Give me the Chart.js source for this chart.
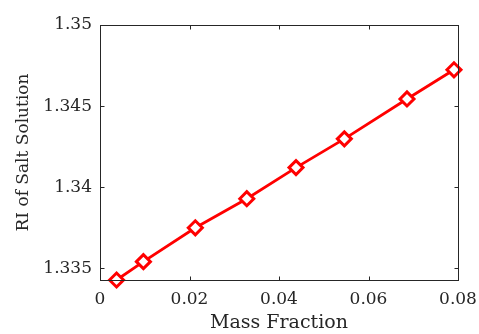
<!DOCTYPE html>
<html><head><meta charset="utf-8">
<script src="https://cdn.jsdelivr.net/npm/chart.js@4/dist/chart.umd.min.js"></script>
<style>html,body{margin:0;padding:0;background:#fff}#wrap{width:479px;height:334px}</style>
</head><body><div id="wrap"><canvas id="c" width="479" height="334"></canvas></div>
<script>
const massFraction = [0.0037, 0.0097, 0.0213, 0.0328, 0.0438, 0.0546, 0.0686, 0.0791];
const riValues = [1.33428, 1.33541, 1.33750, 1.33929, 1.34121, 1.34298, 1.34544, 1.34724];
const xTicks = [0, 0.02, 0.04, 0.06, 0.08];
const xTickLabels = ['0', '0.02', '0.04', '0.06', '0.08'];
const yTicks = [1.335, 1.34, 1.345, 1.35];
const yTickLabels = ['1.335', '1.34', '1.345', '1.35'];

const axisColor = '#262626';
const fontFam = '"DejaVu Serif", serif';

const boxPlugin = {
  id: 'box',
  afterDraw(chart) {
    const {ctx, chartArea: a, scales} = chart;
    ctx.save();
    ctx.strokeStyle = axisColor;
    ctx.lineWidth = 1;
    const L = Math.round(a.left) + 0.5, R = Math.round(a.right) + 0.5;
    const T = Math.round(a.top) + 0.5, B = Math.round(a.bottom) + 0.5;
    ctx.strokeRect(L, T, R - L, B - T);
    const tl = 4;
    ctx.beginPath();
    xTicks.forEach(v => {
      const x = Math.round(scales.x.getPixelForValue(v)) + 0.5;
      ctx.moveTo(x, B); ctx.lineTo(x, B - tl);
      ctx.moveTo(x, T); ctx.lineTo(x, T + tl);
    });
    yTicks.forEach(v => {
      const y = Math.round(scales.y.getPixelForValue(v)) + 0.5;
      ctx.moveTo(L, y); ctx.lineTo(L + tl, y);
      ctx.moveTo(R, y); ctx.lineTo(R - tl, y);
    });
    ctx.stroke();
    ctx.restore();
  }
};

new Chart(document.getElementById('c'), {
  type: 'line',
  data: {
    datasets: [{
      data: massFraction.map((x, i) => ({x, y: riValues[i]})),
      borderColor: '#ff0000',
      borderWidth: 2.8,
      pointStyle: 'rectRot',
      pointRadius: 7,
      pointBorderWidth: 3,
      pointBorderColor: '#ff0000',
      pointBackgroundColor: '#ffffff',
      pointHoverRadius: 7,
      tension: 0,
      clip: false
    }]
  },
  options: {
    responsive: false,
    animation: false,
    events: [],
    layout: {padding: {top: 25, right: 21, left: 0, bottom: 0}},
    plugins: {legend: {display: false}, tooltip: {enabled: false}},
    scales: {
      x: {
        type: 'linear',
        min: 0, max: 0.08,
        afterBuildTicks: s => { s.ticks = xTicks.map(v => ({value: v})); },
        afterFit: s => { s.height = 54; s.paddingLeft = 0; s.paddingRight = 0; },
        grid: {display: false, drawTicks: false},
        border: {display: false},
        ticks: {
          padding: 9,
          color: axisColor,
          font: {family: fontFam, size: 17},
          maxRotation: 0,
          callback: (v, i) => xTickLabels[i]
        },
        title: {display: true, text: 'Mass Fraction', color: axisColor,
                font: {family: fontFam, size: 19}, padding: {top: 0, bottom: 0}}
      },
      y: {
        type: 'linear',
        min: 1.33428, max: 1.35,
        afterBuildTicks: s => { s.ticks = yTicks.map(v => ({value: v})); },
        afterFit: s => { s.width = 100; s.paddingTop = 0; s.paddingBottom = 0; },
        grid: {display: false, drawTicks: false},
        border: {display: false},
        ticks: {
          padding: 8,
          color: axisColor,
          font: {family: fontFam, size: 17},
          callback: (v, i) => yTickLabels[i]
        },
        title: {display: true, text: 'RI of Salt Solution', color: axisColor,
                font: {family: fontFam, size: 17}, padding: {top: 13, bottom: 0}}
      }
    }
  },
  plugins: [boxPlugin]
});
</script>
</body></html>
